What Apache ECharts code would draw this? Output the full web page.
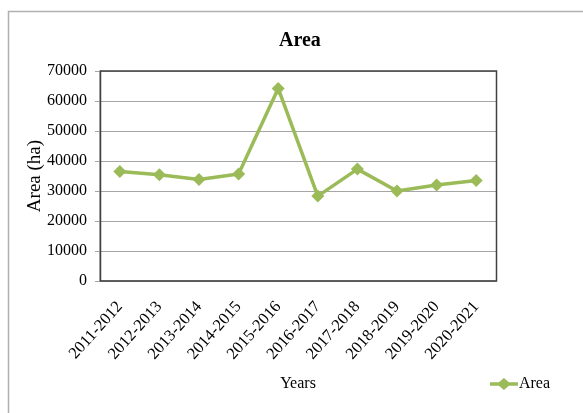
<!DOCTYPE html>
<html><head><meta charset="utf-8">
<script src="https://cdn.jsdelivr.net/npm/echarts@6/dist/echarts.min.js"></script>
<style>html,body{margin:0;padding:0;background:#fff}#c{width:583px;height:413px}</style>
</head><body><div id="c"></div>
<script>
const categories = ['2011-2012','2012-2013','2013-2014','2014-2015','2015-2016','2016-2017','2017-2018','2018-2019','2019-2020','2020-2021'];
const areaValues = [36500, 35400, 33800, 35700, 64200, 28300, 37300, 30000, 32000, 33500];
const yTicks = [0, 10000, 20000, 30000, 40000, 50000, 60000, 70000];

const font = 'Liberation Serif';
const chart = echarts.init(document.getElementById('c'));
chart.setOption({
  animation: false,
  backgroundColor: '#fff',
  textStyle: {fontFamily: font},
  graphic: [
    {type: 'rect', shape: {x: 8.5, y: 11.5, width: 620, height: 500}, style: {fill: 'none', stroke: '#b0b0b0', lineWidth: 1.5}, z: -1},
    {type: 'rect', shape: {x: 100.5, y: 71, width: 396, height: 210}, style: {fill: 'none', stroke: '#404040', lineWidth: 1.5}, z: 100}
  ],
  title: {text: 'Area', left: 279, top: 31, padding: [0, 0, 0, 0],
    textStyle: {fontFamily: font, fontSize: 20, fontWeight: 'bold', color: '#000'}},
  legend: {right: 28, top: 371, itemWidth: 28, itemHeight: 12, itemGap: 2,
    textStyle: {fontFamily: font, fontSize: 16, color: '#000', padding: [0, 0, 0, -4]},
    data: [{name: 'Area', icon: 'path://M0,4.2 L9,4.2 L14,0 L19,4.2 L28,4.2 L28,7.8 L19,7.8 L14,12 L9,7.8 L0,7.8 Z'}]},
  grid: {left: 100, right: 87, top: 71, bottom: 132},
  xAxis: {type: 'category', data: categories, boundaryGap: true,
    name: 'Years', nameLocation: 'middle', nameGap: 95, nameMoveOverlap: false,
    nameTextStyle: {fontFamily: font, fontSize: 16, color: '#000'},
    axisLine: {lineStyle: {color: '#a6a6a6', width: 1.5}},
    axisTick: {show: false},
    axisLabel: {rotate: 48, interval: 0, margin: 23, fontFamily: font, fontSize: 16.5, color: '#000'}},
  yAxis: {type: 'value', min: 0, max: 70000, interval: 10000,
    name: 'Area (ha)', nameLocation: 'middle', nameGap: 55, nameRotate: 90, nameMoveOverlap: false,
    nameTextStyle: {fontFamily: font, fontSize: 19, color: '#000'},
    axisLine: {show: true, lineStyle: {color: '#a6a6a6', width: 1.5}},
    axisTick: {show: true, length: 5, lineStyle: {color: '#a6a6a6'}},
    splitLine: {lineStyle: {color: '#a6a6a6', width: 1.2}},
    axisLabel: {margin: 13, fontFamily: font, fontSize: 16, color: '#000',
      formatter: v => yTicks.includes(v) ? String(v) : ''}},
  series: [{name: 'Area', type: 'line', data: areaValues,
    symbol: 'diamond', symbolSize: 13,
    lineStyle: {color: '#9bbb59', width: 3.5},
    itemStyle: {color: '#9bbb59'}, z: 200}]
});
</script></body></html>
